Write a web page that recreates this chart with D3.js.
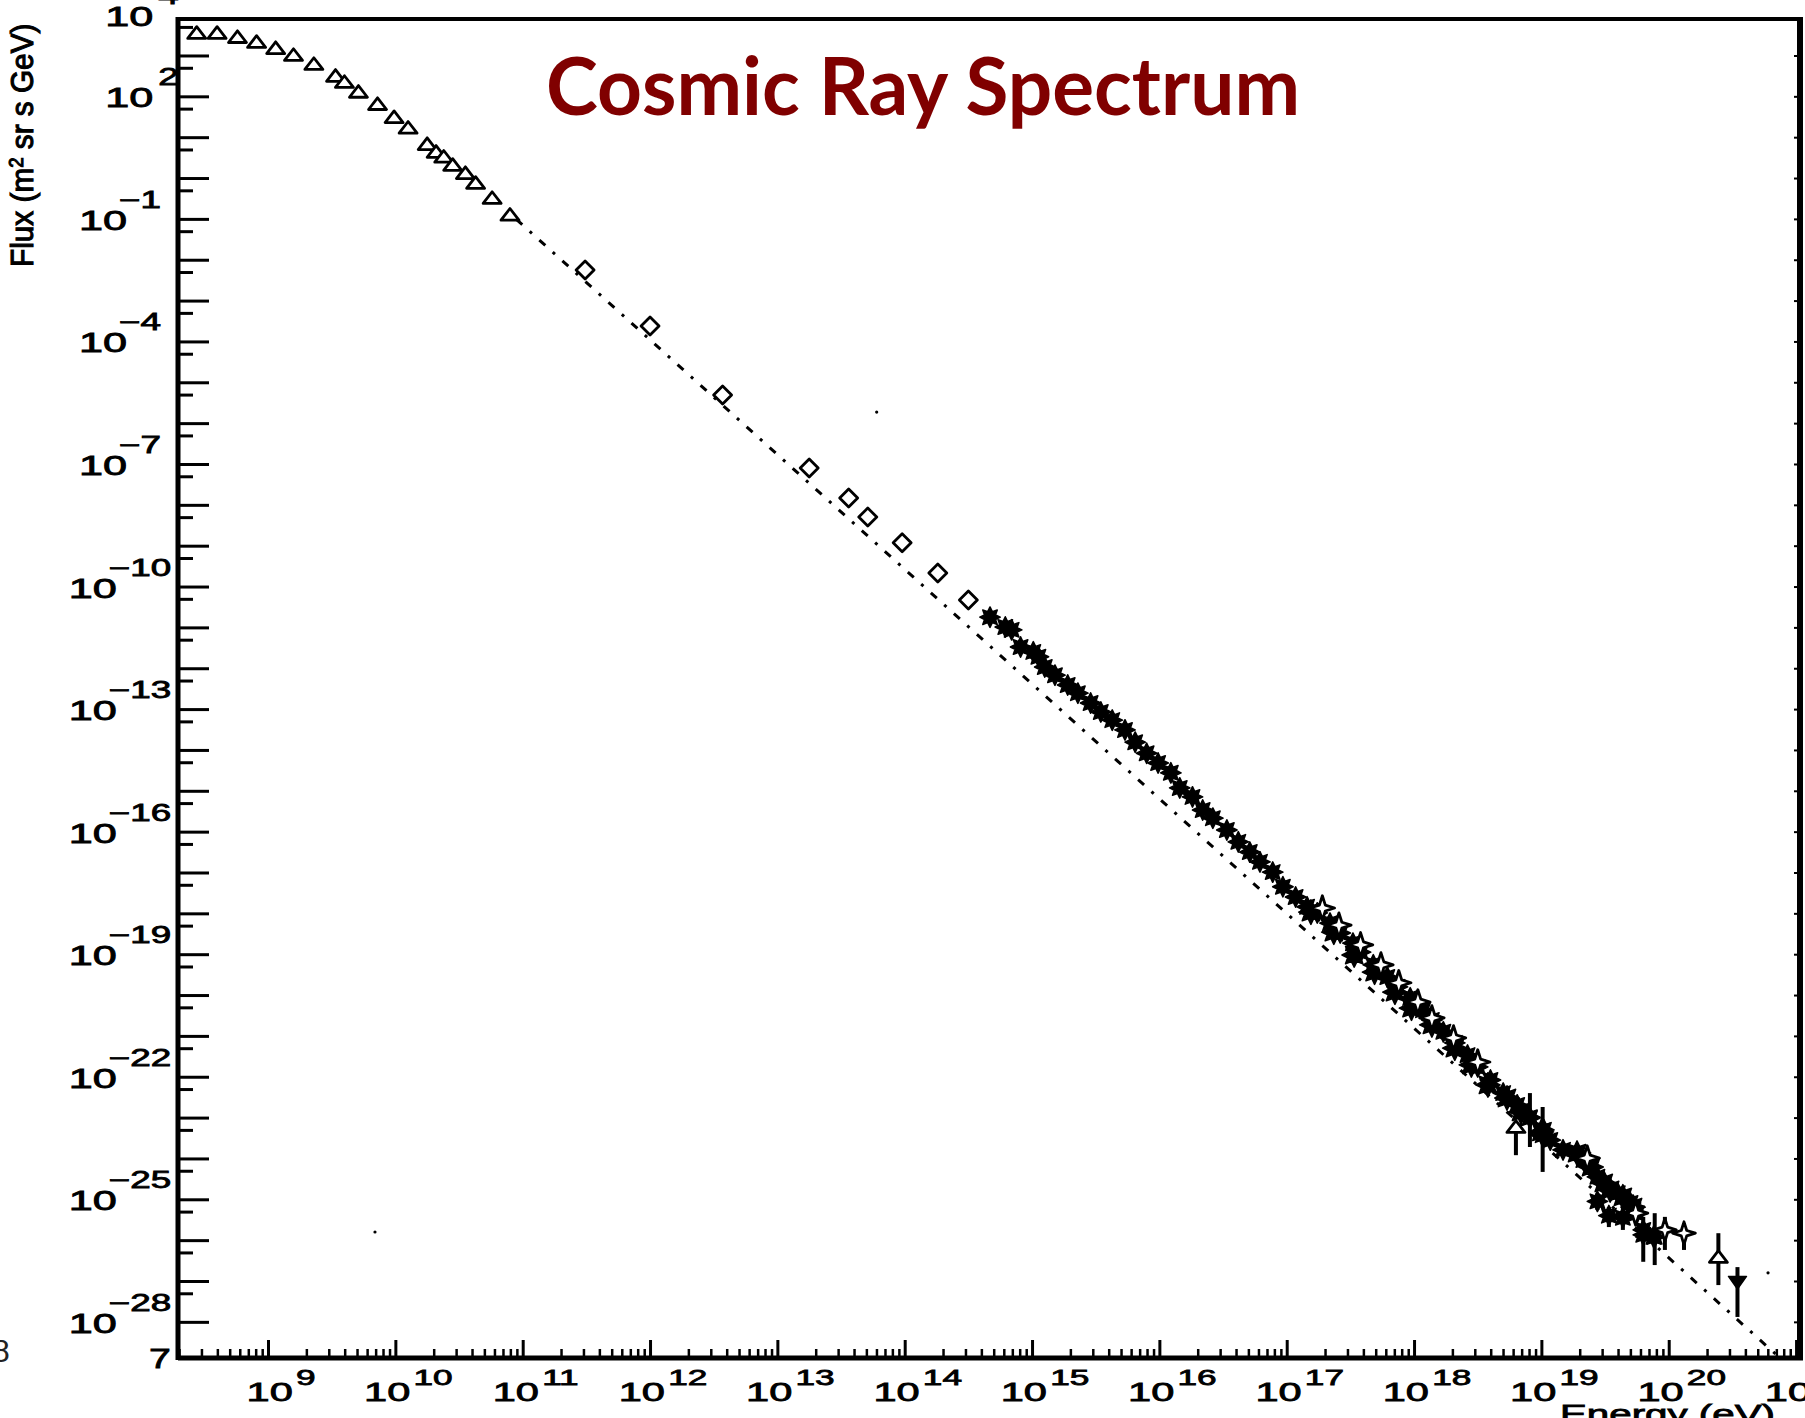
<!DOCTYPE html>
<html>
<head>
<meta charset="utf-8">
<script src="https://cdn.jsdelivr.net/npm/d3@7"></script>
<style>
    body { margin: 0; background: #fff; }
    svg { display: block; }
    .lbl { font-family: "Liberation Sans", Arial, sans-serif; fill: #000; stroke: #000; stroke-width: 0.8px; }
</style>
</head>
<body>
<div id="chart"></div>
<script>
// all values are log10: energy in eV, flux in (m^2 sr s GeV)^-1

var triLogE = [8.44, 8.60, 8.76, 8.91, 9.06, 9.20, 9.36, 9.53, 9.60, 9.71, 9.86, 9.99, 10.10, 10.25, 10.32, 10.38, 10.45, 10.55, 10.63, 10.76, 10.90];
var triLogF = [3.55, 3.55, 3.45, 3.33, 3.18, 3.01, 2.79, 2.50, 2.35, 2.11, 1.81, 1.49, 1.23, 0.83, 0.64, 0.52, 0.32, 0.12, -0.12, -0.49, -0.90];

var diaLogE = [11.49, 12.00, 12.57, 13.25, 13.56, 13.71, 13.98, 14.26, 14.50];
var diaLogF = [-2.25, -3.62, -5.31, -7.10, -7.83, -8.30, -8.93, -9.67, -10.33];

var starLogE = [14.67, 14.79, 14.84, 14.91, 15.01, 15.05, 15.10, 15.18, 15.28, 15.36, 15.46, 15.54, 15.63, 15.73, 15.81, 15.90, 15.99, 16.09, 16.16, 16.26, 16.34, 16.42, 16.53, 16.62, 16.71, 16.79, 16.89, 16.97, 17.07, 17.16, 17.24, 17.34, 17.42, 17.52, 17.58, 17.68, 17.79, 17.87, 17.97, 18.07, 18.14, 18.23, 18.32, 18.42, 18.50, 18.60, 18.70, 18.81, 18.91, 19.02, 19.07, 19.17, 19.33, 19.44, 19.60, 19.70, 19.75, 19.80, 19.88];
var starLogF = [-10.75, -10.99, -11.06, -11.48, -11.60, -11.72, -11.97, -12.17, -12.41, -12.61, -12.85, -13.07, -13.27, -13.51, -13.81, -14.08, -14.32, -14.56, -14.93, -15.15, -15.47, -15.67, -15.96, -16.25, -16.50, -16.74, -16.99, -17.35, -17.60, -17.84, -17.99, -18.24, -18.48, -18.73, -18.95, -19.26, -19.56, -19.80, -20.07, -20.37, -20.61, -20.90, -21.17, -21.47, -21.76, -22.08, -22.40, -22.69, -22.99, -23.30, -23.55, -23.79, -24.04, -24.45, -24.85, -25.09, -25.34, -25.75, -25.92];

// lower row of the dense band
var bandLogE = [17.19, 17.37, 17.53, 17.69, 17.85, 17.98, 18.14, 18.32, 18.45, 18.58, 18.73, 18.84, 19.00, 19.28, 19.39, 19.49, 19.54, 19.64, 19.72];
var bandLogF = [-17.97, -18.46, -19.02, -19.44, -19.93, -20.32, -20.73, -21.30, -21.71, -22.20, -22.52, -22.86, -23.35, -23.87, -24.21, -24.60, -24.77, -24.94, -25.19];

var crossLogE = [17.28, 17.41, 17.58, 17.74, 17.88, 18.03, 18.14, 18.31, 18.50, 19.36, 19.74];
var crossLogF = [-17.87, -18.29, -18.77, -19.26, -19.70, -20.17, -20.56, -21.05, -21.64, -23.99, -25.34];

// highest energies, with error bars
var errLogE  = [18.80, 18.91, 19.01, 19.44, 19.53, 19.64, 19.80, 19.89, 19.97, 20.12, 20.39, 20.54];
var errLogF  = [-23.23, -23.01, -23.43, -25.05, -25.40, -25.45, -25.87, -25.92, -25.75, -25.83, -26.41, -27.02];
var errLo    = [-23.92, -23.72, -24.33, -25.26, -25.68, -25.75, -26.53, -26.61, -26.24, -26.24, -27.10, -27.88];
var errHi    = [-23.15, -22.40, -22.74, -24.85, -25.19, -25.19, -25.43, -25.34, -25.43, -25.58, -25.83, -26.66];
var errShape = ["tri", "star", "star", "star", "star", "star", "star", "star", "cross", "cross", "tri", "down"];

// dash-dot power law, its two end points
var fitLogE = [10.95, 21.0];
var fitLogF = [-1.01, -29.24];

var speckLogE = [13.78, 20.78, 9.84];
var speckLogF = [-5.73, -26.80, -25.80];

var yLabelExp = [4, 2, -1, -4, -7, -10, -13, -16, -19, -22, -25, -28];
var xLabelExp = d3.range(9, 22);


var symWideTri = { draw: function(ctx, size) {
    var r = Math.sqrt(size);
    ctx.moveTo(0, -0.7 * r); ctx.lineTo(r, 0.6 * r); ctx.lineTo(-r, 0.6 * r); ctx.closePath();
}};
var symDownTri = { draw: function(ctx, size) {
    var r = Math.sqrt(size);
    ctx.moveTo(-r, -0.6 * r); ctx.lineTo(r, -0.6 * r); ctx.lineTo(0, 0.8 * r); ctx.closePath();
}};
var symDiamond = { draw: function(ctx, size) {
    var r = Math.sqrt(size);
    ctx.moveTo(0, -r); ctx.lineTo(r, 0); ctx.lineTo(0, r); ctx.lineTo(-r, 0); ctx.closePath();
}};
function starType(points, inner) {
    return { draw: function(ctx, size) {
        var r = Math.sqrt(size);
        for (var i = 0; i < points * 2; i++) {
            var a = i * Math.PI / points - Math.PI / 2, rad = (i % 2) ? r * inner : r;
            if (i === 0) ctx.moveTo(rad * Math.cos(a), rad * Math.sin(a));
            else ctx.lineTo(rad * Math.cos(a), rad * Math.sin(a));
        }
        ctx.closePath();
    }};
}
var symStar8 = starType(8, 0.58);
var symCross4 = starType(4, 0.34);


SpectrumChart = function(_parentElement) {
    this.parentElement = _parentElement;
    this.initVis();
};

SpectrumChart.prototype.initVis = function() {
    var vis = this;

    vis.w = 1805;
    vis.h = 1418;
    vis.left = 178;
    vis.right = 1800;
    vis.top = 19;
    vis.bottom = 1358;

    vis.svg = d3.select("#" + vis.parentElement).append("svg")
        .attr("width", vis.w)
        .attr("height", vis.h);

    vis.x = d3.scaleLog().domain([Math.pow(10, 8.293), Math.pow(10, 21.031)]).range([vis.left, vis.right]);
    vis.y = d3.scaleLog().domain([Math.pow(10, -28.885), Math.pow(10, 3.893)]).range([vis.bottom, vis.top]);

    function px(e) { return vis.x(Math.pow(10, e)); }
    function py(f) { return vis.y(Math.pow(10, f)); }
    function pts(le, lf) { return le.map(function(e, i) { return [e, lf[i]]; }); }

    vis.svg.append("clipPath").attr("id", "plot")
        .append("rect")
        .attr("x", vis.left).attr("y", vis.top)
        .attr("width", vis.right - vis.left).attr("height", vis.bottom - vis.top);

    // ticks
    var yExps = d3.range(-28, 4);
    var yMajor = yExps.map(function(e) { return Math.pow(10, e); });
    var yMinor = yExps.map(function(e) { return 5 * Math.pow(10, e); });
    var xMajor = xLabelExp.map(function(e) { return Math.pow(10, e); });
    var xMinor = [];
    d3.range(8, 21).forEach(function(k) {
        d3.range(2, 10).forEach(function(m) {
            var v = m * Math.pow(10, k);
            if (v > vis.x.domain()[0] && v < vis.x.domain()[1]) xMinor.push(v);
        });
    });

    function tickAxis(axis, tx, ty, width) {
        vis.svg.append("g")
            .attr("transform", "translate(" + tx + "," + ty + ")")
            .call(axis.tickSizeOuter(0).tickFormat(""))
            .call(function(g) { g.select(".domain").remove(); })
            .selectAll(".tick line").attr("stroke", "#000").attr("stroke-width", width);
    }
    tickAxis(d3.axisRight(vis.y).tickValues(yMajor).tickSize(31), vis.left, 0, 3);
    tickAxis(d3.axisRight(vis.y).tickValues(yMinor).tickSize(15), vis.left, 0, 3);
    tickAxis(d3.axisLeft(vis.y).tickValues(yMajor).tickSize(6), vis.right, 0, 2);
    tickAxis(d3.axisTop(vis.x).tickValues(xMajor).tickSize(18), 0, vis.bottom, 3);
    tickAxis(d3.axisTop(vis.x).tickValues(xMinor).tickSize(9), 0, vis.bottom, 2.5);

    // frame
    var frame = vis.svg.append("g").attr("stroke", "#000");
    frame.append("line").attr("x1", vis.left).attr("x2", vis.left).attr("y1", vis.top - 2).attr("y2", vis.bottom + 2).attr("stroke-width", 5);
    frame.append("line").attr("x1", vis.left).attr("x2", vis.right + 3).attr("y1", vis.bottom).attr("y2", vis.bottom).attr("stroke-width", 5);
    frame.append("line").attr("x1", vis.left).attr("x2", vis.right + 3).attr("y1", vis.top).attr("y2", vis.top).attr("stroke-width", 4);
    frame.append("line").attr("x1", vis.right).attr("x2", vis.right).attr("y1", vis.top).attr("y2", vis.bottom + 2).attr("stroke-width", 6);

    // tick labels
    yLabelExp.forEach(function(e) {
        var cx = e < 0 ? 120 : 142;
        var t = vis.svg.append("g")
            .attr("transform", "translate(" + cx + "," + (py(e) + 11) + ") scale(1.6,1)")
            .append("text").attr("class", "lbl").attr("text-anchor", "middle").attr("font-size", 27);
        t.append("tspan").text("10");
        t.append("tspan").attr("dx", e < 0 ? -5 : 3).attr("dy", -22).attr("font-size", 23)
            .text(e < 0 ? "\u2212" + (-e) : e);
    });
    xLabelExp.forEach(function(e) {
        var t = vis.svg.append("g")
            .attr("transform", "translate(" + (px(e) + 13) + ",1401) scale(1.6,1)")
            .append("text").attr("class", "lbl").attr("text-anchor", "middle").attr("font-size", 26);
        t.append("tspan").text("10");
        t.append("tspan").attr("dx", 2).attr("dy", -16).attr("font-size", 22).text(e);
    });

    vis.svg.append("g").attr("transform", "translate(160,1368) scale(1.4,1)")
        .append("text").attr("class", "lbl").attr("text-anchor", "middle").attr("font-size", 28).text("7");
    vis.svg.append("text")
        .attr("x", -8).attr("y", 1362)
        .style("font-family", "Liberation Sans, Arial, sans-serif")
        .style("font-size", "32px").style("fill", "#222")
        .text("8");

    vis.svg.append("g").attr("transform", "translate(1560,1423) scale(1.55,1)")
        .append("text").attr("class", "lbl").attr("font-size", 26).text("Energy (eV)");

    var yt = vis.svg.append("g").attr("transform", "translate(33,267) rotate(-90) scale(0.93,1)")
        .append("text").attr("class", "lbl").attr("font-size", 32).style("stroke-width", "1.1px");
    yt.append("tspan").text("Flux (m");
    yt.append("tspan").attr("dy", -10).attr("font-size", 20).text("2");
    yt.append("tspan").attr("dy", 10).text(" sr s GeV)");

    vis.svg.append("text")
        .attr("x", 546).attr("y", 115)
        .attr("textLength", 754).attr("lengthAdjust", "spacingAndGlyphs")
        .style("font-family", "Lato, 'Open Sans', sans-serif")
        .style("font-weight", "bold")
        .style("font-size", "80px")
        .style("fill", "#800000")
        .text("Cosmic Ray Spectrum");

    // data
    vis.plot = vis.svg.append("g").attr("clip-path", "url(#plot)");

    vis.plot.append("path")
        .datum(pts(fitLogE, fitLogF))
        .attr("d", d3.line().x(function(d) { return px(d[0]); }).y(function(d) { return py(d[1]); }))
        .attr("fill", "none")
        .attr("stroke", "#000")
        .attr("stroke-width", 3)
        .attr("stroke-dasharray", "8,10,3,10");

    vis.plot.selectAll(".speck")
        .data(pts(speckLogE, speckLogF))
        .enter().append("circle")
        .attr("class", "speck")
        .attr("cx", function(d) { return px(d[0]); })
        .attr("cy", function(d) { return py(d[1]); })
        .attr("r", 1.6);

    function markers(cls, data, type, size, filled) {
        vis.plot.selectAll("." + cls)
            .data(data)
            .enter().append("path")
            .attr("class", cls)
            .attr("transform", function(d) { return "translate(" + px(d[0]) + "," + py(d[1]) + ")"; })
            .attr("d", d3.symbol().type(type).size(size))
            .attr("fill", filled ? "#000" : "#fff")
            .attr("stroke", "#000")
            .attr("stroke-width", filled ? 1.5 : 2.8)
            .attr("stroke-linejoin", "round");
    }

    markers("band", pts(bandLogE, bandLogF), symStar8, 150, true);
    markers("star", pts(starLogE, starLogF), symStar8, 105, true);
    markers("cross", pts(crossLogE, crossLogF), symCross4, 150, false);

    var errData = errLogE.map(function(e, i) {
        return { e: e, f: errLogF[i], lo: errLo[i], hi: errHi[i], shape: errShape[i] };
    });
    vis.plot.selectAll(".err")
        .data(errData)
        .enter().append("line")
        .attr("class", "err")
        .attr("x1", function(d) { return px(d.e); })
        .attr("x2", function(d) { return px(d.e); })
        .attr("y1", function(d) { return py(d.lo); })
        .attr("y2", function(d) { return py(d.hi); })
        .attr("stroke", "#000")
        .attr("stroke-width", 4);

    var shapeTypes = { tri: [symWideTri, 81, false], star: [symStar8, 105, true], cross: [symCross4, 130, false], down: [symDownTri, 81, true] };
    Object.keys(shapeTypes).forEach(function(k) {
        var s = shapeTypes[k];
        markers("err-" + k, errData.filter(function(d) { return d.shape === k; }).map(function(d) { return [d.e, d.f]; }), s[0], s[1], s[2]);
    });

    markers("dia", pts(diaLogE, diaLogF), symDiamond, 81, false);
    markers("tri", pts(triLogE, triLogF), symWideTri, 81, false);
};

new SpectrumChart("chart");
</script>
</body>
</html>
